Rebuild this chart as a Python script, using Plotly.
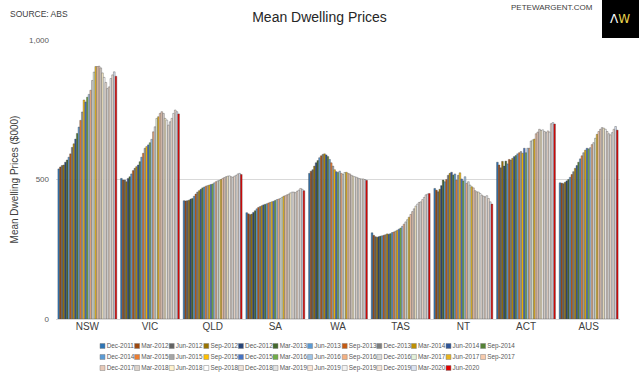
import plotly.graph_objects as go

regions = ["NSW", "VIC", "QLD", "SA", "WA", "TAS", "NT", "ACT", "AUS"]

quarters = [
    "Dec-2011", "Mar-2012", "Jun-2012", "Sep-2012", "Dec-2012", "Mar-2013", "Jun-2013", "Sep-2013",
    "Dec-2013", "Mar-2014", "Jun-2014", "Sep-2014", "Dec-2014", "Mar-2015", "Jun-2015", "Sep-2015",
    "Dec-2015", "Mar-2016", "Jun-2016", "Sep-2016", "Dec-2016", "Mar-2017", "Jun-2017", "Sep-2017",
    "Dec-2017", "Mar-2018", "Jun-2018", "Sep-2018", "Dec-2018", "Mar-2019", "Jun-2019", "Sep-2019",
    "Dec-2019", "Mar-2020", "Jun-2020",
]

# Mean dwelling prices ($000), one list per state, Dec-2011 .. Jun-2020
nsw = [538, 545, 550, 552, 562, 570, 580, 592, 615, 628, 645, 665, 688, 712, 742, 785, 778, 795,
       805, 820, 855, 885, 905, 905, 906, 900, 882, 866, 848, 826, 832, 862, 875, 886, 870]
vic = [504, 498, 498, 492, 504, 510, 520, 532, 540, 546, 552, 564, 580, 594, 612, 618, 624, 632,
       644, 671, 689, 719, 725, 737, 743, 737, 719, 713, 695, 707, 719, 737, 749, 743, 735]
qld = [424, 423, 424, 426, 430, 432, 440, 448, 455, 460, 465, 470, 473, 476, 478, 480, 482, 484,
       488, 492, 495, 497, 500, 504, 507, 510, 512, 513, 510, 508, 512, 515, 520, 522, 518]
sa = [381, 377, 374, 376, 382, 388, 395, 400, 403, 406, 409, 411, 413, 416, 418, 420, 422, 425,
      428, 430, 432, 436, 440, 442, 445, 448, 452, 455, 455, 453, 458, 462, 468, 465, 460]
wa = [522, 530, 535, 548, 560, 568, 578, 585, 590, 592, 588, 582, 572, 560, 548, 535, 528, 525,
      530, 522, 518, 525, 526, 522, 520, 515, 512, 510, 508, 505, 503, 502, 502, 500, 497]
tas = [309, 300, 295, 293, 295, 297, 298, 300, 302, 305, 304, 306, 310, 312, 315, 318, 322, 326,
       332, 340, 348, 356, 365, 375, 385, 395, 405, 412, 418, 420, 428, 436, 445, 448, 450]
nt = [468, 462, 456, 465, 478, 498, 492, 500, 515, 522, 526, 516, 520, 498, 515, 524, 502, 495,
      510, 486, 492, 480, 474, 470, 460, 456, 455, 450, 444, 440, 438, 442, 432, 420, 412]
act = [562, 552, 542, 565, 548, 566, 556, 572, 570, 576, 582, 586, 592, 596, 600, 594, 612, 596,
       612, 612, 638, 642, 645, 664, 670, 680, 676, 678, 672, 668, 674, 670, 700, 704, 699]
aus = [488, 487, 485, 490, 495, 500, 508, 518, 528, 540, 550, 562, 574, 585, 596, 605, 612, 610,
       614, 625, 632, 648, 662, 672, 680, 686, 684, 680, 672, 664, 660, 668, 680, 690, 677]

series_by_region = [nsw, vic, qld, sa, wa, tas, nt, act, aus]

colors = [
    "#2E75B6", "#9E480E", "#636363", "#997300", "#264478", "#43682B",
    "#5B9BD5", "#C55A11", "#7F7F7F", "#BF9000", "#2F5597", "#548235",
    "#5B9BD5", "#ED7D31", "#A5A5A5", "#FFC000", "#4472C4", "#70AD47",
    "#9DC3E6", "#F4B183", "#DBDBDB", "#E2F0D9", "#E6B422", "#F8CBAD",
    "#E8C9B8", "#DDD3CB", "#FFF2CC", "#FFFFFF", "#EDE0D6", "#E2E2E2",
    "#FBE5D6", "#F2F2F2", "#F5E3D7", "#DAE3F3", "#E00000",
]

FONT = "Liberation Sans, Arial, sans-serif"

fig = go.Figure()
for i, q in enumerate(quarters):
    fig.add_trace(go.Bar(
        x=regions,
        y=[s[i] for s in series_by_region],
        name=q,
        marker=dict(color=colors[i], line=dict(color="rgba(70,70,70,0.75)", width=0.5)),
        showlegend=False,
        xaxis="x", yaxis="y",
    ))

# Custom legend laid out like the original (12 columns x 3 rows)
ncol = 12
leg_x = [i % ncol for i in range(len(quarters))]
leg_y = [i // ncol for i in range(len(quarters))]
fig.add_trace(go.Scatter(
    x=leg_x, y=leg_y, mode="markers+text",
    marker=dict(symbol="square", size=5, color=colors, line=dict(width=0.5, color="#808080")),
    text=quarters, textposition="middle right",
    textfont=dict(size=6.4, color="#595959", family=FONT),
    xaxis="x2", yaxis="y2", showlegend=False, hoverinfo="skip", cliponaxis=False,
))

fig.update_layout(
    width=639, height=374,
    margin=dict(l=56, r=19, t=40, b=2, autoexpand=False),
    paper_bgcolor="white", plot_bgcolor="white",
    font=dict(family=FONT, color="#404040"),
    barmode="group", bargap=0.06, bargroupgap=0,
    title=dict(text="Mean Dwelling Prices", x=0.5, xref="container", xanchor="center",
               y=1 - 17 / 374, yref="container", yanchor="middle",
               font=dict(size=14, color="#262626", family=FONT)),
    xaxis=dict(domain=[0, 1], anchor="y", showgrid=False, showline=False, ticks="",
               automargin=False, tickfont=dict(size=10, color="#404040")),
    yaxis=dict(domain=[53 / 332, 1], anchor="x", range=[0, 1000], dtick=500, tickformat=",",
               showgrid=True, gridcolor="#D9D9D9", gridwidth=1,
               zeroline=True, zerolinecolor="#D9D9D9", zerolinewidth=1, automargin=False,
               tickfont=dict(size=8, color="#595959"), ticklabelstandoff=6,
               title=dict(text="Mean Dwelling Prices ($000)", standoff=8,
                          font=dict(size=10, color="#404040"))),
    xaxis2=dict(domain=[0, 1], anchor="y2", range=[-1.344, 14.957], visible=False, automargin=False),
    yaxis2=dict(domain=[0, 0.12], anchor="x2", range=[2.364, -1.255], visible=False, automargin=False),
    shapes=[dict(type="rect", xref="paper", yref="paper", x0=(602 - 56) / 564, x1=(639 - 56) / 564,
                 y0=(372 - 38) / 332, y1=(372 + 2) / 332, fillcolor="black", line=dict(width=0),
                 layer="above")],
    annotations=[
        dict(text="SOURCE: ABS", x=(8 - 56) / 564, y=(372 - 14) / 332, xref="paper", yref="paper",
             xanchor="left", yanchor="middle", showarrow=False,
             font=dict(size=8.5, color="#404040", family=FONT)),
        dict(text="PETEWARGENT.COM", x=(595 - 56) / 564, y=(372 - 7) / 332, xref="paper", yref="paper",
             xanchor="right", yanchor="middle", showarrow=False,
             font=dict(size=8, color="#404040", family=FONT)),
        dict(text="<span style='color:white'>Λ</span><span style='color:#E8D44D'>W</span>",
             x=(620 - 56) / 564, y=(372 - 19) / 332, xref="paper", yref="paper",
             xanchor="center", yanchor="middle", showarrow=False,
             font=dict(size=12, family="DejaVu Sans, sans-serif")),
    ],
)

fig.write_html("out.html", config={"displayModeBar": False},
               post_script="document.body.style.margin='0';")
